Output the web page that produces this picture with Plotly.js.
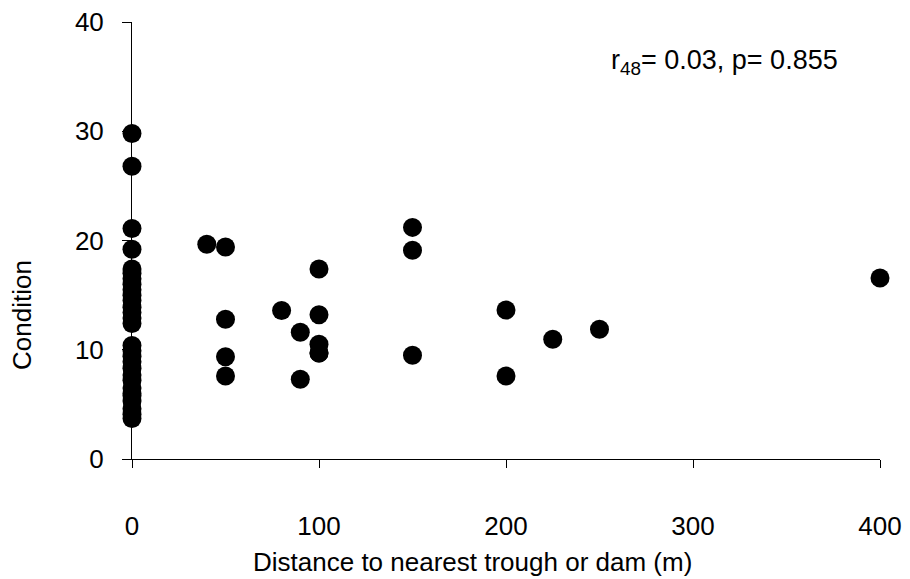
<!DOCTYPE html>
<html>
<head>
<meta charset="utf-8">
<script src="https://cdn.plot.ly/plotly-3.0.1.min.js"></script>
<style>html,body{margin:0;padding:0;background:#fff;}#chart{width:910px;height:579px;}</style>
</head>
<body>
<div id="chart"></div>
<script>
const distance = [
  0,0,0,0,
  0,0,0,0,0,0,0,0,0,0,0,
  0,0,0,0,0,0,0,0,0,0,0,0,0,0,
  40,50,50,50,50,80,90,90,100,100,100,100,100,150,150,150,200,200,225,250,400
];
const condition = [
  29.8,26.8,21.1,19.2,
  17.4,17.0,16.5,16.0,15.5,15.0,14.5,13.9,13.4,12.9,12.4,
  10.4,9.9,9.4,8.9,8.3,7.7,7.2,6.5,6.0,5.8,5.3,4.6,4.1,3.7,
  19.65,19.4,12.8,9.36,7.6,13.6,11.6,7.3,17.4,13.2,10.5,9.7,9.7,21.2,19.1,9.5,13.64,7.6,10.96,11.87,16.57
];
const xTicks = [0,100,200,300,400];
const yTicks = [0,10,20,30,40];

const font = "Liberation Sans, Arial, sans-serif";
Plotly.newPlot('chart', [{
  x: distance, y: condition, type: 'scatter', mode: 'markers',
  marker: {color: '#000', size: 19},
  cliponaxis: false, hoverinfo: 'skip'
}], {
  width: 910, height: 579,
  margin: {l: 132, r: 30, t: 22, b: 120},
  paper_bgcolor: '#fff', plot_bgcolor: '#fff',
  showlegend: false,
  font: {family: font, color: '#000', size: 26},
  xaxis: {
    range: [0, 400], tickvals: xTicks, ticktext: xTicks.map(String),
    showgrid: false, zeroline: false, showline: true, linecolor: '#000', linewidth: 1,
    ticks: 'outside', ticklen: 8, tickcolor: '#000', ticklabelstandoff: 36,
    tickfont: {size: 26, family: font, color: '#000'}
  },
  yaxis: {
    range: [0, 40], tickvals: yTicks, ticktext: yTicks.map(String),
    showgrid: false, zeroline: false, showline: true, linecolor: '#000', linewidth: 1,
    ticks: 'outside', ticklen: 9, tickcolor: '#000', ticklabelstandoff: 13,
    tickfont: {size: 26, family: font, color: '#000'}
  },
  annotations: [
    {xref: 'paper', yref: 'paper', x: (724-132)/748, y: (459-62)/437, xanchor: 'center', yanchor: 'middle',
     text: 'r<sub>48</sub>= 0.03, p= 0.855', showarrow: false, font: {size: 27, family: font, color: '#000'}},
    {xref: 'paper', yref: 'paper', x: (472-132)/748, y: (459-562)/437, xanchor: 'center', yanchor: 'middle',
     text: 'Distance to nearest trough or dam (m)', showarrow: false, font: {size: 26, family: font, color: '#000'}},
    {xref: 'paper', yref: 'paper', x: (22-132)/748, y: (459-315)/437, xanchor: 'center', yanchor: 'middle',
     text: 'Condition', textangle: -90, showarrow: false, font: {size: 26, family: font, color: '#000'}}
  ]
}, {displayModeBar: false, staticPlot: true});
</script>
</body>
</html>
